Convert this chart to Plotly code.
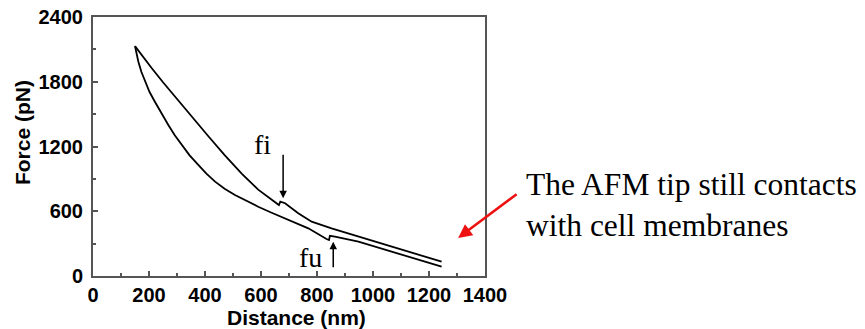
import plotly.graph_objects as go

# Upper curve (with fi event)
upper_x = [150, 180, 210, 250, 293, 352, 412, 471, 531, 590, 650, 664, 669, 686, 733, 781, 852, 948, 1067, 1186, 1245]
upper_y = [2130, 2025, 1925, 1795, 1660, 1478, 1295, 1118, 948, 800, 682, 658, 689, 674, 581, 503, 441, 364, 272, 179, 133]

# Lower curve (with fu event)
lower_x = [150, 155, 162, 173, 186, 202, 221, 244, 269, 292, 317, 345, 376, 405, 436, 470, 507, 548, 590, 636, 686, 728, 769, 834, 843, 846, 864, 948, 1067, 1186, 1245]
lower_y = [2130, 2055, 1986, 1890, 1801, 1705, 1615, 1505, 1399, 1305, 1214, 1118, 1029, 948, 874, 808, 751, 695, 642, 588, 535, 488, 442, 343, 334, 372, 364, 319, 226, 133, 86]

x_ticks = [0, 200, 400, 600, 800, 1000, 1200, 1400]
y_ticks = [0, 600, 1200, 1800, 2400]

fig = go.Figure()
fig.add_trace(go.Scatter(x=upper_x, y=upper_y, mode="lines",
                         line=dict(color="black", width=1.8), showlegend=False))
fig.add_trace(go.Scatter(x=lower_x, y=lower_y, mode="lines",
                         line=dict(color="black", width=1.8), showlegend=False))

axis_font = dict(family="Liberation Sans, Arial", size=20, color="black", weight="bold")
title_font = dict(family="Liberation Sans, Arial", size=21, color="black", weight="bold")

fig.update_xaxes(range=[0, 1400], tickvals=x_ticks, ticks="inside", ticklen=5, tickwidth=1.5,
                 tickcolor="#555", showline=True, linecolor="#555", linewidth=2, mirror=True,
                 showgrid=False, zeroline=False, tickfont=axis_font, automargin=False,
                 minor=dict(dtick=100, ticks="inside", ticklen=3, tickcolor="#555", tickwidth=1.5, showgrid=False))
fig.update_yaxes(range=[0, 2400], tickvals=y_ticks, ticks="inside", ticklen=5, tickwidth=1.5,
                 tickcolor="#555", showline=True, linecolor="#555", linewidth=2, mirror=True,
                 showgrid=False, zeroline=False, tickfont=axis_font, ticklabelstandoff=4, automargin=False,
                 minor=dict(dtick=300, ticks="inside", ticklen=3, tickcolor="#555", tickwidth=1.5, showgrid=False))

serif = dict(family="Liberation Serif, Times New Roman", size=28, color="black")

annotations = [
    dict(x=0.52, y=-0.16, xref="paper", yref="paper", text="Distance (nm)", showarrow=False,
         font=title_font, xanchor="center", yanchor="middle"),
    dict(x=-0.181, y=0.552, xref="paper", yref="paper", text="Force (pN)", showarrow=False,
         font=title_font, textangle=-90, xanchor="center", yanchor="middle"),
    dict(x=605, y=1214, xref="x", yref="y", text="fi", showarrow=False, font=serif),
    dict(x=679, y=720, xref="x", yref="y", ax=0, ay=-45, axref="pixel", ayref="pixel",
         showarrow=True, arrowhead=2, arrowsize=1, arrowwidth=1.5, arrowcolor="black", text=""),
    dict(x=775, y=167, xref="x", yref="y", text="fu", showarrow=False, font=serif),
    dict(x=858, y=318, xref="x", yref="y", ax=0, ay=27, axref="pixel", ayref="pixel",
         showarrow=True, arrowhead=2, arrowsize=1, arrowwidth=1.5, arrowcolor="black", text=""),
    dict(x=1304, y=352, xref="x", yref="y", ax=60, ay=-45, axref="pixel", ayref="pixel",
         showarrow=True, arrowhead=2, arrowsize=1.1, arrowwidth=2.5, arrowcolor="#ee1111", text=""),
    dict(x=1.099, y=0.274, xref="paper", yref="paper", xanchor="left", yanchor="middle", align="left",
         text="The AFM tip still contacts<br>with cell membranes", showarrow=False,
         font=dict(family="Liberation Serif, Times New Roman", size=31.5, color="black")),
]
fig.update_layout(width=865, height=329, margin=dict(l=93, r=380, t=17, b=53),
                  plot_bgcolor="white", paper_bgcolor="white", annotations=annotations)

fig.write_html("out.html", config={"displayModeBar": False},
               post_script="document.body.style.margin='0';")
